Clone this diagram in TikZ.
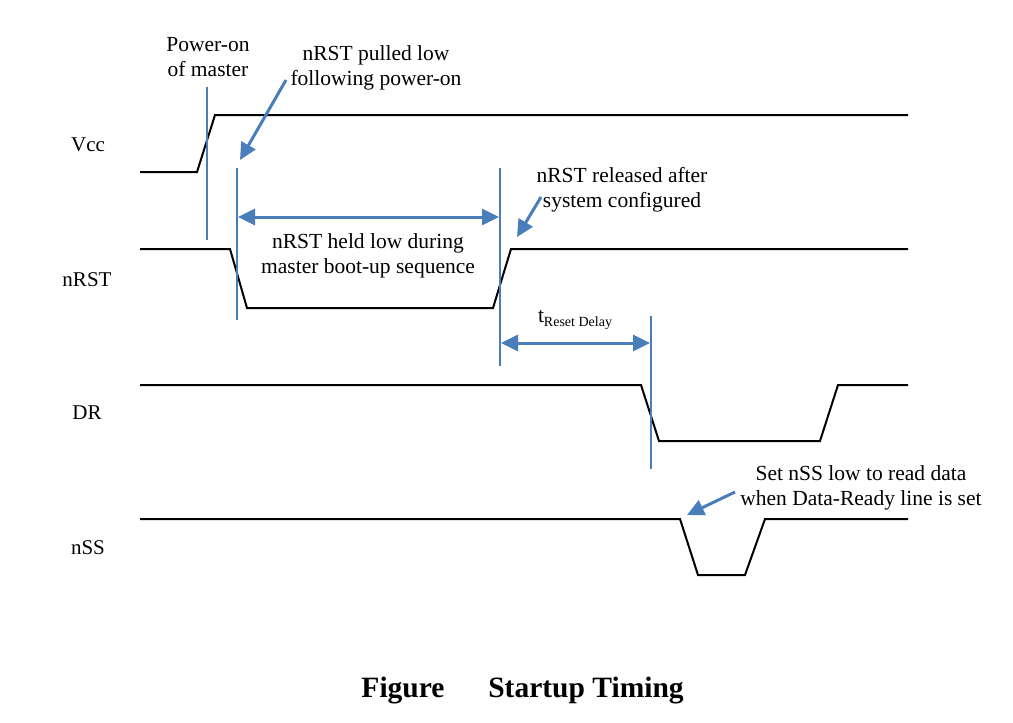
\documentclass[tikz,border=0pt]{standalone}
\usepackage{fontspec}
\setmainfont{Liberation Serif}
\usetikzlibrary{arrows.meta}

\definecolor{markblue}{HTML}{4A7EBB}
\tikzset{
  wave/.style={line width=2pt,black,line join=miter},
  marker/.style={line width=2.4pt,markblue},
  pointer/.style={line width=3pt,markblue,-{Triangle[width=16pt,length=17pt]}},
  span/.style={line width=3pt,markblue,{Triangle[width=16pt,length=17pt]}-{Triangle[width=16pt,length=17pt]}},
  sig/.style={font=\fontsize{21}{25}\selectfont},
  note/.style={align=center,font=\fontsize{21.5}{25}\selectfont}
}

\begin{document}
\begin{tikzpicture}[x=1pt,y=-1pt]
  \useasboundingbox (0,0) rectangle (1013,723);

  % signal names
  \node[sig] (vcc) at (88,145) {Vcc};
  \node[sig] (nrst) at (87,280) {nRST};
  \node[sig] (dr) at (87,413) {DR};
  \node[sig] (nss) at (88,548) {nSS};

  % waveforms
  \draw[wave] (140,172) -- (197,172) -- (215,115) -- (908,115);
  \draw[wave] (140,249) -- (230,249) -- (247,308) -- (493,308) -- (511,249) -- (908,249);
  \draw[wave] (140,385) -- (641,385) -- (659,441) -- (820,441) -- (838,385) -- (908,385);
  \draw[wave] (140,519) -- (680,519) -- (698,575) -- (745,575) -- (765,519) -- (908,519);

  % marker lines
  \coordinate (m1t) at (207,87);  \coordinate (m1b) at (207,240);
  \coordinate (m2t) at (237,168); \coordinate (m2b) at (237,320);
  \coordinate (m3t) at (500,168); \coordinate (m3b) at (500,366);
  \coordinate (m4t) at (651,316); \coordinate (m4b) at (651,469);
  \draw[marker] (m1t) -- (m1b);
  \draw[marker] (m2t) -- (m2b);
  \draw[marker] (m3t) -- (m3b);
  \draw[marker] (m4t) -- (m4b);

  % annotations
  \node[note] (poweron) at (208,57) {Power-on\\of master};
  \node[note] (pulled) at (376,68) {nRST pulled low\\following power-on};
  \node[note] (held) at (368,256) {nRST held low during\\master boot-up sequence};
  \node[note] (released) at (622,190) {nRST released after\\system configured};
  \node[note] (delay) at (575,320) {t\raisebox{-0.35ex}{\fontsize{14}{16}\selectfont Reset Delay}};
  \node[note] (setnss) at (861,488) {Set nSS low to read data\\when Data-Ready line is set};

  \coordinate (a1s) at (286,80);  \coordinate (a1e) at (240,160);
  \coordinate (a2s) at (541,197); \coordinate (a2e) at (517,237);
  \coordinate (a3s) at (735,492); \coordinate (a3e) at (687,515);
  \draw[pointer] (a1s) -- (a1e);
  \draw[pointer] (a2s) -- (a2e);
  \draw[pointer] (a3s) -- (a3e);

  \coordinate (h1) at (238,217); \coordinate (h2) at (499,217);
  \coordinate (d1) at (501,343); \coordinate (d2) at (650,343);
  \draw[span] (h1) -- (h2);
  \draw[span] (d1) -- (d2);

  % caption
  \node[font=\fontsize{29.5}{34}\selectfont\bfseries] (figlabel) at (403,691) {Figure};
  \node[font=\fontsize{29.5}{34}\selectfont\bfseries] (figtitle) at (586,691) {Startup Timing};
\end{tikzpicture}
\end{document}
